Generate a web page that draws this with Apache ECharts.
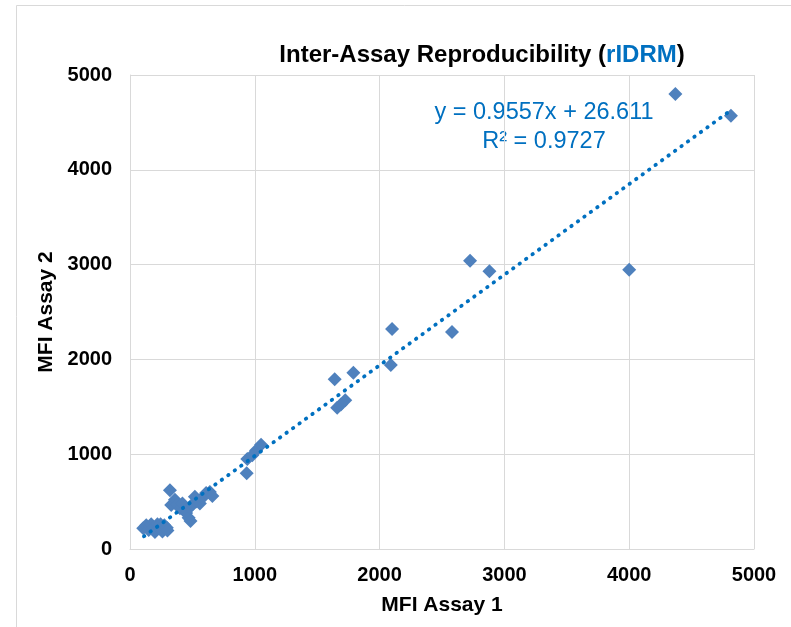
<!DOCTYPE html>
<html>
<head>
<meta charset="utf-8">
<script src="https://cdn.jsdelivr.net/npm/echarts@6/dist/echarts.min.js"></script>
<style>
html,body{margin:0;padding:0;background:#fff;}
#chart{width:791px;height:627px;}
</style>
</head>
<body>
<div id="chart"></div>
<script>
// MFI Assay 1 (x) values
const assay1 = [
  106, 130, 150, 160, 170, 190, 200, 220, 240, 245, 260, 275, 295, 300,
  320, 330, 360, 380, 400, 420, 450, 470, 485, 480, 500, 530, 560, 580, 610, 640, 660, 520,
  935, 940, 980, 1010, 1050,
  1660, 1690, 1725, 1640, 1790,
  2090, 2100, 2580, 2725, 2880, 4000, 4370, 4815
];
// MFI Assay 2 (y) values
const assay2 = [
  220, 250, 200, 235, 260, 230, 180, 260, 215, 260, 185, 250, 225, 195,
  620, 465, 520, 470, 430, 480, 380, 330, 295, 440, 470, 500, 480, 540, 590, 600, 560, 550,
  800, 950, 990, 1040, 1100,
  1490, 1525, 1570, 1790, 1860,
  1940, 2320, 2290, 3040, 2930, 2945, 4800, 4570
];
// Linear trendline endpoints
const trendX = [112, 4815];
const trendY = [134, 4628];
const xTicks = [0, 1000, 2000, 3000, 4000, 5000];
const yTicks = [0, 1000, 2000, 3000, 4000, 5000];
const titleMain = 'Inter-Assay Reproducibility (';
const titleBlue = 'rIDRM';
const titleEnd = ')';
const eqLine1 = 'y = 0.9557x + 26.611';
const eqLine2 = 'R² = 0.9727';

const FONT = '"Liberation Sans", Arial, sans-serif';
const chart = echarts.init(document.getElementById('chart'));
const points = assay1.map((x, i) => [x, assay2[i]]);
const trend = trendX.map((x, i) => [x, trendY[i]]);
const plain = v => String(v);

chart.setOption({
  animation: false,
  backgroundColor: '#fff',
  title: {
    text: '{a|' + titleMain + '}{b|' + titleBlue + '}{a|' + titleEnd + '}',
    left: 477, top: 38, textAlign: 'center',
    textStyle: {
      rich: {
        a: {fontFamily: FONT, fontSize: 24, fontWeight: 'bold', color: '#000'},
        b: {fontFamily: FONT, fontSize: 24, fontWeight: 'bold', color: '#0070C0'}
      }
    }
  },
  grid: {left: 130, right: 37, top: 75, bottom: 78, containLabel: false},
  xAxis: {
    type: 'value', min: xTicks[0], max: xTicks[xTicks.length - 1], interval: xTicks[1] - xTicks[0],
    axisLine: {show: true, lineStyle: {color: '#d9d9d9', width: 1}},
    axisTick: {show: false},
    splitLine: {show: true, lineStyle: {color: '#d9d9d9', width: 1}},
    axisLabel: {fontFamily: FONT, fontSize: 20, fontWeight: 'bold', color: '#000', margin: 16, formatter: plain},
    name: 'MFI Assay 1', nameLocation: 'middle', nameGap: 46,
    nameTextStyle: {fontFamily: FONT, fontSize: 21, fontWeight: 'bold', color: '#000'}
  },
  yAxis: {
    type: 'value', min: yTicks[0], max: yTicks[yTicks.length - 1], interval: yTicks[1] - yTicks[0],
    axisLine: {show: true, lineStyle: {color: '#d9d9d9', width: 1}},
    axisTick: {show: false},
    splitLine: {show: true, lineStyle: {color: '#d9d9d9', width: 1}},
    axisLabel: {fontFamily: FONT, fontSize: 20, fontWeight: 'bold', color: '#000', margin: 18, formatter: plain},
    name: 'MFI Assay 2', nameLocation: 'middle', nameGap: 70, nameRotate: 90,
    nameTextStyle: {fontFamily: FONT, fontSize: 21, fontWeight: 'bold', color: '#000'}
  },
  graphic: [
    {type: 'rect', shape: {x: 16.5, y: 5.5, width: 900, height: 900},
     style: {fill: 'none', stroke: '#d9d9d9', lineWidth: 1}, silent: true},
    {type: 'text', x: 544, y: 127,
     style: {text: eqLine1 + '\n' + eqLine2, fill: '#0070C0', font: '23.5px ' + FONT,
             align: 'center', verticalAlign: 'middle', lineHeight: 29}}
  ],
  series: [
    {type: 'scatter', data: points, symbol: 'diamond', symbolSize: 14,
     itemStyle: {color: '#4F81BD', opacity: 1}, z: 2},
    {type: 'line', data: trend, symbol: 'none', z: 3,
     lineStyle: {color: '#0070C0', width: 3.8, type: [0.5, 7.5], cap: 'round'}}
  ]
});
</script>
</body>
</html>
